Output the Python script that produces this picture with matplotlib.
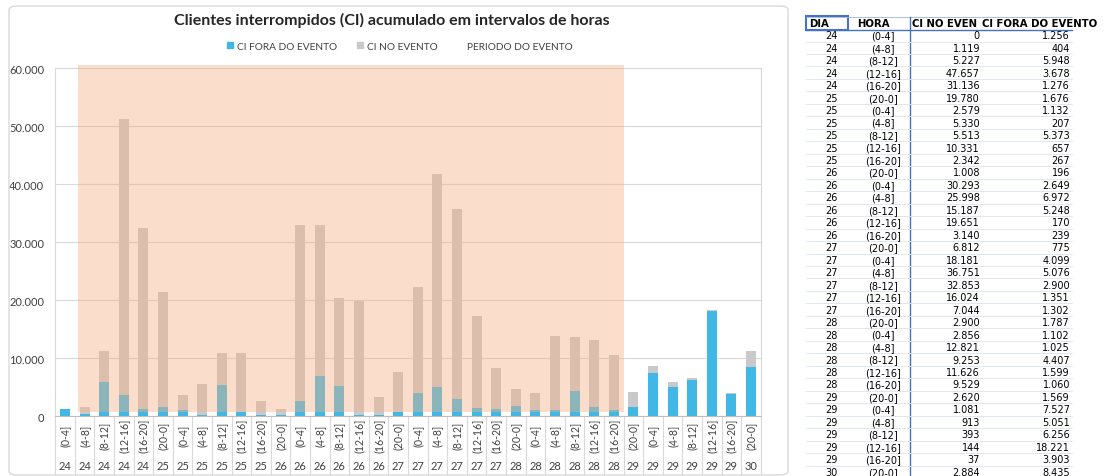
import numpy as np
import matplotlib.pyplot as plt
from matplotlib.patches import Rectangle, FancyBboxPatch, Patch
from matplotlib.transforms import blended_transform_factory

dias = [24, 24, 24, 24, 24,
        25, 25, 25, 25, 25, 25,
        26, 26, 26, 26, 26, 26,
        27, 27, 27, 27, 27, 27,
        28, 28, 28, 28, 28, 28,
        29, 29, 29, 29, 29, 29,
        30]
horas = ['(0-4]', '(4-8]', '(8-12]', '(12-16]', '(16-20]'] + \
        ['(20-0]', '(0-4]', '(4-8]', '(8-12]', '(12-16]', '(16-20]'] * 5 + ['(20-0]']
ci_no_evento = [0, 1119, 5227, 47657, 31136,
                19780, 2579, 5330, 5513, 10331, 2342,
                1008, 30293, 25998, 15187, 19651, 3140,
                6812, 18181, 36751, 32853, 16024, 7044,
                2900, 2856, 12821, 9253, 11626, 9529,
                2620, 1081, 913, 393, 144, 37,
                2884]
ci_fora_evento = [1256, 404, 5948, 3678, 1276,
                  1676, 1132, 207, 5373, 657, 267,
                  196, 2649, 6972, 5248, 170, 239,
                  775, 4099, 5076, 2900, 1351, 1302,
                  1787, 1102, 1025, 4407, 1599, 1060,
                  1569, 7527, 5051, 6256, 18221, 3903,
                  8435]
evento_inicio, evento_fim = 1, 28   # first / last bar inside the event period

plt.rcParams['font.family'] = ['Lato', 'DejaVu Sans']

W, H = 1106, 477
fig = plt.figure(figsize=(W / 100, H / 100), dpi=100)

def fx(px):
    return px / W

def fy(py):
    return 1 - py / H

# chart frame
fig.patches.append(FancyBboxPatch((fx(9), fy(476)), fx(788 - 9), (476 - 7) / H,
                                  boxstyle='round,pad=0,rounding_size=0.008',
                                  transform=fig.transFigure, fill=False,
                                  edgecolor='#D9D9D9', linewidth=1))

ax_l, ax_r, ax_t, ax_b = 55.2, 760.8, 69.3, 417.3
ax = fig.add_axes([fx(ax_l), fy(ax_b), fx(ax_r - ax_l), (ax_b - ax_t) / H])

blue = '#41B7E5'
gray = '#C9C9C9'
x = np.arange(len(dias))
ax.bar(x, ci_fora_evento, width=0.51, color=blue, zorder=2, label='CI FORA DO EVENTO')
ax.bar(x, ci_no_evento, bottom=ci_fora_evento, width=0.51, color=gray, zorder=2,
       label='CI NO EVENTO')
ax.add_patch(Rectangle((evento_inicio - 0.32, 800), evento_fim - evento_inicio + 0.86, 59800,
                       facecolor='#F4B183', alpha=0.42, edgecolor='none', zorder=3,
                       clip_on=False))

ax.set_xlim(-0.5, len(dias) - 0.5)
ax.set_ylim(0, 60000)
ax.set_yticks(np.arange(0, 60001, 10000))
ax.set_yticklabels([f'{v:,}'.replace(',', '.') for v in range(0, 60001, 10000)],
                   fontsize=8, color='#404040')
ax.tick_params(axis='y', length=0, pad=8)
ax.set_xticks([])
ax.grid(axis='y', color='#D9D9D9', linewidth=0.8, zorder=0)
for s in ax.spines.values():
    s.set_color('#D9D9D9')
    s.set_linewidth(0.8)
ax.spines['bottom'].set_color('#BFBFBF')

# two-level category axis
tr = blended_transform_factory(ax.transData, ax.transAxes)
span = ax_b - ax_t
for i in range(len(dias) + 1):
    ax.plot([i - 0.5, i - 0.5], [0, -(475 - ax_b) / span], transform=tr,
            color='#D9D9D9', linewidth=0.8, clip_on=False)
for i in range(len(dias)):
    ax.text(i, -(436 - ax_b) / span, horas[i], transform=tr, rotation=90,
            ha='center', va='center', fontsize=7.6, color='#404040')
    ax.text(i, -(467 - ax_b) / span, str(dias[i]), transform=tr,
            ha='center', va='center', fontsize=8, color='#404040')

fig.text(fx(392), fy(20), 'Clientes interrompidos (CI) acumulado em intervalos de horas',
         ha='center', va='center', fontsize=11.5, fontweight='bold', color='#262626')

handles = [Patch(color=blue), Patch(color=gray), Patch(color='none')]
fig.legend(handles, ['CI FORA DO EVENTO', 'CI NO EVENTO', 'PERIODO DO EVENTO'],
           loc='center', bbox_to_anchor=(fx(400), fy(47)), ncol=3, frameon=False,
           fontsize=7.3, handlelength=0.6, handleheight=0.6, handletextpad=0.4,
           columnspacing=1.9, labelcolor='#404040')

# table on the right
tfont = ['DejaVu Sans']
row0, pitch = 36.3, 12.47
fig.add_artist(plt.Line2D([fx(806), fx(1072)], [fy(30.5), fy(30.5)],
                          color='#4472C4', linewidth=1))
fig.add_artist(plt.Line2D([fx(806), fx(1072)], [fy(18), fy(18)],
                          color='#9DB3DC', linewidth=0.6))
fig.add_artist(plt.Line2D([fx(909.5), fx(909.5)], [fy(18), fy(477)],
                          color='#4472C4', linewidth=1))
fig.patches.append(Rectangle((fx(806), fy(31)), fx(42), 14 / H, transform=fig.transFigure,
                             fill=False, edgecolor='#4472C4', linewidth=1.5))
hdr_y = fy(24)
fig.text(fx(809), hdr_y, 'DIA', ha='left', va='center', fontsize=7.3, fontweight='bold',
         family=tfont)
fig.text(fx(873), hdr_y, 'HORA', ha='center', va='center', fontsize=7.3, fontweight='bold',
         family=tfont)
fig.text(fx(912), hdr_y, 'CI NO EVEN', ha='left', va='center', fontsize=7.3,
         fontweight='bold', family=tfont)
fig.text(fx(982), hdr_y, 'CI FORA DO EVENTO', ha='left', va='center', fontsize=7.3,
         fontweight='bold', family=tfont)

def fmt(v):
    return f'{v:,}'.replace(',', '.')

for k in range(len(dias)):
    y = row0 + k * pitch
    sep = y + pitch / 2
    fig.add_artist(plt.Line2D([fx(806), fx(1072)], [fy(sep), fy(sep)],
                              color='#DCE3EF', linewidth=0.6))
    yy = fy(y)
    fig.text(fx(831), yy, str(dias[k]), ha='center', va='center', fontsize=7, family=tfont)
    fig.text(fx(883), yy, horas[k], ha='center', va='center', fontsize=7, family=tfont)
    fig.text(fx(980), yy, fmt(ci_no_evento[k]), ha='right', va='center', fontsize=7,
             family=tfont)
    fig.text(fx(1070), yy, fmt(ci_fora_evento[k]), ha='right', va='center', fontsize=7,
             family=tfont)

fig.savefig('out.png', dpi=100)
